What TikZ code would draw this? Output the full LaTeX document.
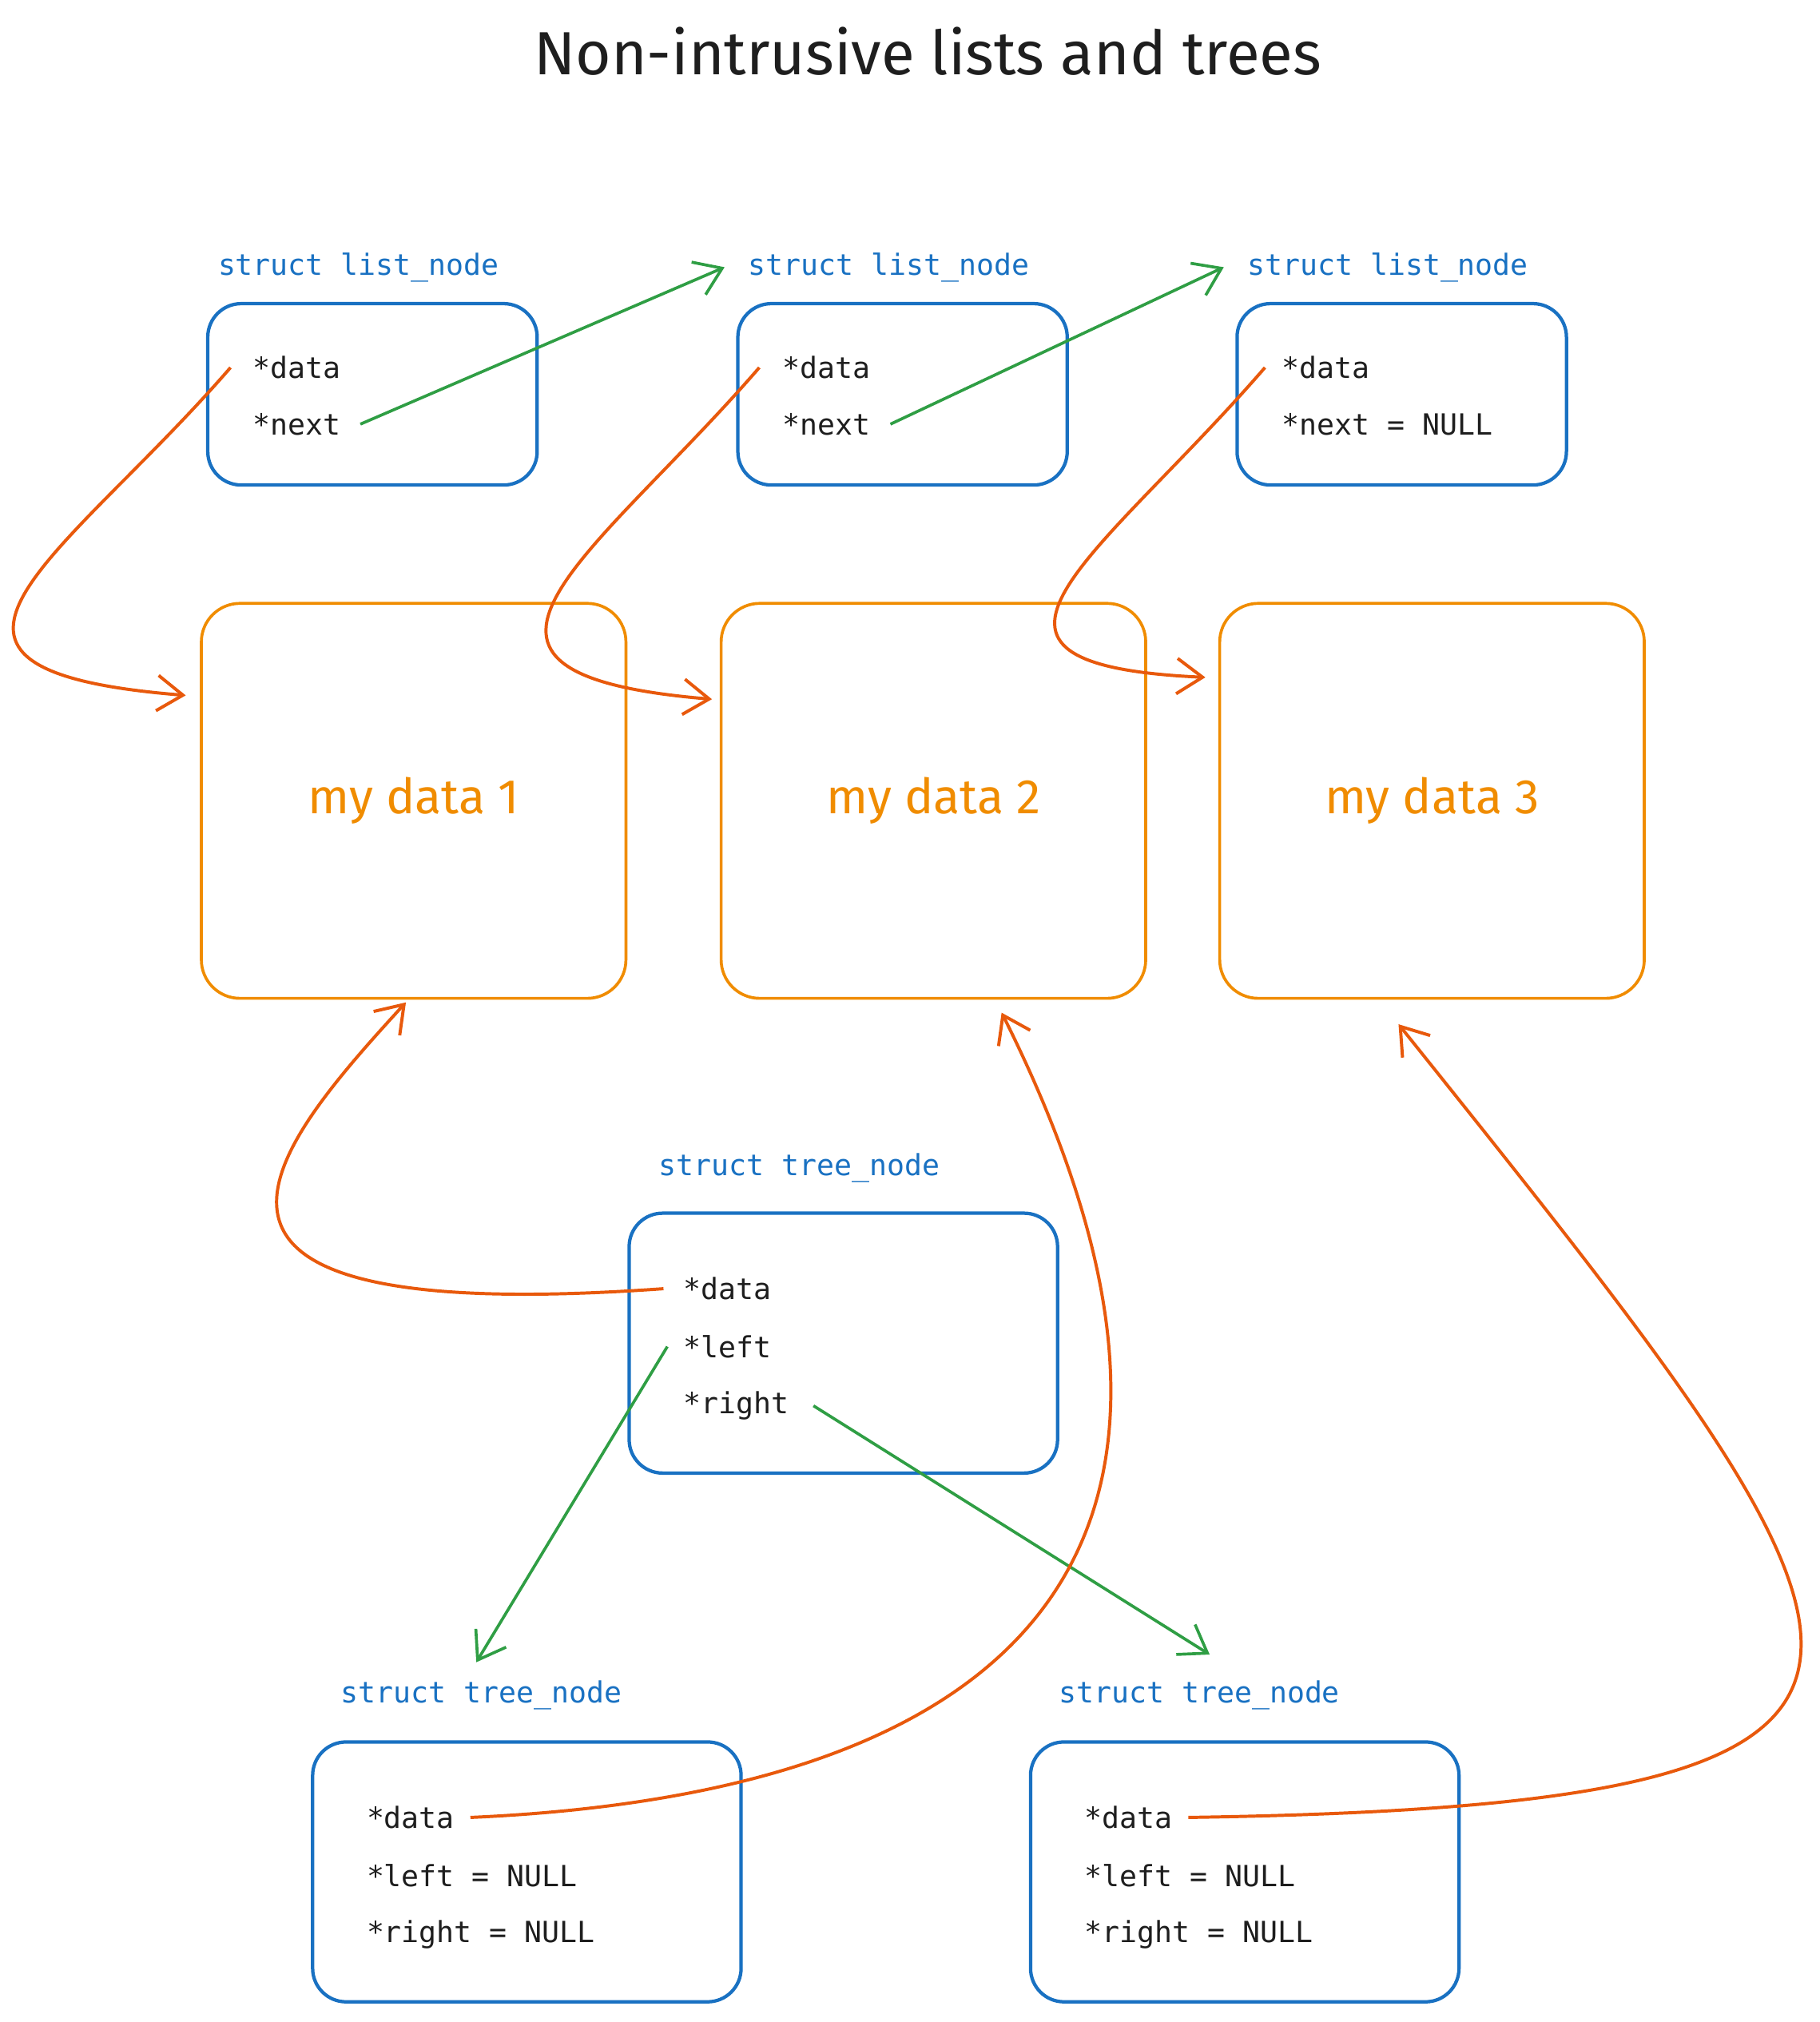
\documentclass[tikz,border=0pt]{standalone}
\usepackage{fontspec}
\newfontfamily\codefont{DejaVu Sans Mono}
\newfontfamily\handfont{Fira Sans}
\usetikzlibrary{arrows.meta,positioning,calc}
\newlength\pxu
\setlength\pxu{0.02cm}
\definecolor{structBlue}{HTML}{1971C2}
\definecolor{dataOrange}{HTML}{F08C00}
\definecolor{refOrange}{HTML}{E8590C}
\definecolor{linkGreen}{HTML}{2F9E44}
\definecolor{inkBlack}{HTML}{1E1E1E}
\tikzset{
  >={Straight Barb[length=4mm,width=5.5mm]},
  structBox/.style={draw=structBlue,line width=1.5pt,rounded corners=26\pxu},
  dataBox/.style={draw=dataOrange,line width=1.3pt,rounded corners=30\pxu,
    minimum width=330\pxu,minimum height=307\pxu,text=dataOrange,
    font=\handfont\fontsize{21.5}{25}\selectfont},
  structLabel/.style={anchor=west,inner sep=0pt,text=structBlue,
    font=\codefont\fontsize{12.9}{15}\selectfont},
  field/.style={anchor=west,inner sep=0pt,text=inkBlack,
    font=\codefont\fontsize{12.9}{15}\selectfont},
  ptrLink/.style={->,draw=linkGreen,line width=1.3pt},
  dataLink/.style={->,draw=refOrange,line width=1.4pt},
}
\begin{document}
\begin{tikzpicture}[x=\pxu,y=-\pxu]
\useasboundingbox (0,0) rectangle (1414,1571.7);

% ===== Title =====
\node[text=inkBlack,font=\handfont\fontsize{27}{31}\selectfont] (title) at (721,40) {Non-intrusive lists and trees};

% ===== List nodes =====
\foreach [count=\i] \x/\nxt in {289.5/*next,701.5/*next,1089.5/*next = NULL} {
  \node[structBox,minimum width=256\pxu,minimum height=141\pxu] (listNode\i) at (\x,306.5) {};
  \node[structLabel] (listLabel\i) at ($(listNode\i.north west)+(9,-27)$) {struct list\_node};
  \node[field] (listData\i) at ($(listNode\i.north west)+(36,51)$) {*data};
  \node[field] (listNext\i) at ($(listNode\i.north west)+(36,95)$) {\nxt};
}

% ===== My data boxes =====
\foreach [count=\i] \x in {321.5,725.5,1113} {
  \node[dataBox] (dataBox\i) at (\x,622.5) {my data \i};
}

% ===== Tree nodes =====
\node[structBox,minimum width=333\pxu,minimum height=202\pxu] (treeRoot) at (655.5,1044) {};
\node[structLabel] (rootLabel) at ($(treeRoot.north west)+(24,-34)$) {struct tree\_node};
\node[field] (rootData) at ($(treeRoot.north west)+(43,60)$) {*data};
\node[field] (rootLeft) at ($(treeRoot.north west)+(43,105)$) {*left};
\node[field] (rootRight) at ($(treeRoot.north west)+(43,151)$) {*right};

\foreach [count=\i] \x in {409.5,967.5} {
  \node[structBox,minimum width=333\pxu,minimum height=202\pxu] (treeLeaf\i) at (\x,1455) {};
  \node[structLabel] (leafLabel\i) at ($(treeLeaf\i.north west)+(23,-35)$) {struct tree\_node};
  \node[field] (leafData\i) at ($(treeLeaf\i.north west)+(43,60)$) {*data};
  \node[field] (leafLeft\i) at ($(treeLeaf\i.north west)+(43,105)$) {*left = NULL};
  \node[field] (leafRight\i) at ($(treeLeaf\i.north west)+(43,151)$) {*right = NULL};
}

% ===== next pointers =====
\foreach \a/\b in {1/2,2/3} {
  \draw[ptrLink] ([xshift=15\pxu]listNext\a.east) -- ([xshift=-18\pxu]listLabel\b.west);
}

% ===== data pointers of the list =====
\draw[dataLink] ([xshift=-17\pxu]listData1.west) .. controls +(-130,150) and +(-250,-20) .. ($(dataBox1.west)+(-11,-82)$);
\draw[dataLink] ([xshift=-18\pxu]listData2.west) .. controls +(-130,150) and +(-240,-20) .. ($(dataBox2.west)+(-6,-79)$);
\draw[dataLink] ([xshift=-13\pxu]listData3.west) .. controls +(-130,150) and +(-220,-10) .. ($(dataBox3.west)+(-10,-96)$);

% ===== left / right pointers of the tree =====
\draw[ptrLink] ([xshift=-12\pxu]rootLeft.west) -- ([shift={(-4,-14)}]leafLabel1.north);
\draw[ptrLink] ([xshift=19\pxu]rootRight.east) -- ([shift={(8,-20)}]leafLabel2.north);

% ===== data pointers of the tree =====
\draw[dataLink] ([xshift=-15\pxu]rootData.west) .. controls +(-420,30) and +(-110,120) .. ($(dataBox1.south)+(-6,2)$);
\draw[dataLink] ([xshift=12\pxu]leafData1.east) .. controls +(450,-20) and +(200,400) .. ($(dataBox2.south)+(53,10)$);
\draw[dataLink] ([xshift=12\pxu]leafData2.east) .. controls +(650,-10) and +(400,500) .. ($(dataBox3.south)+(-26,19)$);

\end{tikzpicture}
\end{document}
